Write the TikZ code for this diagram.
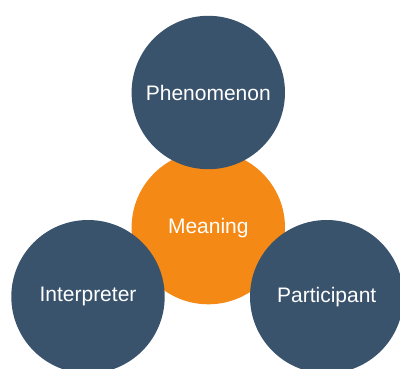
\documentclass[tikz,border=0pt]{standalone}
\usepackage{fontspec}
\setmainfont{Liberation Sans}
\definecolor{slate}{HTML}{3A536C}
\definecolor{amber}{HTML}{F48915}
\begin{document}
\begin{tikzpicture}[x=1pt, y=1pt, main node/.style={circle,fill=slate,text=white,minimum size=153.4pt,inner sep=0pt,font=\fontsize{21}{25}\selectfont}]
\useasboundingbox (0,0) rectangle (400,368);
\clip (0,0) rectangle (400,368);
\node[main node,fill=amber] (mean) at (208.3,140.4) {Meaning};
\node[main node] (phen) at (208.3,275.5) {Phenomenon};
\node[main node] (inter) at (88,71.3) {Interpreter};
\node[main node] (part) at (326.7,71.3) {Participant};
\end{tikzpicture}
\end{document}
